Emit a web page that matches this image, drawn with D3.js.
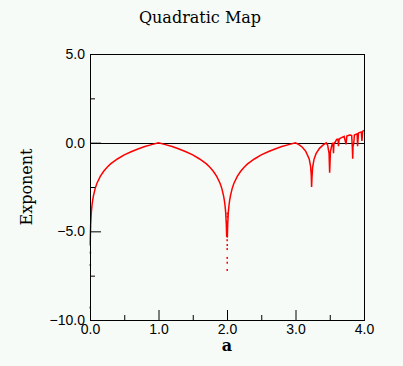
<!DOCTYPE html>
<html>
<head>
<meta charset="utf-8">
<script src="https://cdn.jsdelivr.net/npm/d3@7"></script>
<style>
  html, body { margin: 0; padding: 0; background: #f6fbf7; }
  svg { display: block; }
</style>
</head>
<body>
<svg id="chart" width="403" height="366"></svg>
<script>
// ---- data ----
const titleText = "Quadratic Map";
const xLabel = "a";
const yLabel = "Exponent";
const xMajorTicks = [0, 1, 2, 3, 4];
const xMinorTicks = [0.5, 1.5, 2.5, 3.5];
const yMajorTicks = [5, 0, -5, -10];
const yMinorTicks = [2.5, -2.5, -7.5];

// main curve (parameter a, Lyapunov exponent)
const curveA = [
  0.003, 0.005, 0.01, 0.02, 0.03, 0.04, 0.05, 0.075, 0.1, 0.15, 0.2, 0.25, 0.3, 0.4, 0.5,
  0.6, 0.7, 0.8, 0.9, 1.0, 1.1, 1.2, 1.3, 1.4, 1.5, 1.6, 1.7, 1.75, 1.8, 1.85, 1.9, 1.925,
  1.95, 1.96, 1.97, 1.98, 1.99, 1.995
];
const curveExp = [
  -5.8, -5.3, -4.6, -3.9, -3.5, -3.22, -3.0, -2.59, -2.3, -1.9, -1.61, -1.39, -1.2, -0.92, -0.69,
  -0.51, -0.36, -0.22, -0.11, -0.01, -0.11, -0.22, -0.36, -0.51, -0.69, -0.92, -1.2, -1.39, -1.61, -1.9, -2.3, -2.59,
  -3.0, -3.22, -3.5, -3.9, -4.6, -5.3
];
const curve2A = [
  2.005, 2.01, 2.02, 2.03, 2.04, 2.05, 2.075, 2.1, 2.15, 2.2, 2.25, 2.3, 2.4, 2.5, 2.6, 2.7,
  2.8, 2.9, 3.0, 3.05, 3.1, 3.15, 3.2, 3.22, 3.23, 3.235, 3.24, 3.25, 3.27, 3.3, 3.35, 3.4,
  3.449, 3.47, 3.49, 3.4986, 3.51, 3.53, 3.544, 3.55, 3.5546, 3.56, 3.565, 3.57, 3.58, 3.6,
  3.62, 3.628, 3.635, 3.65, 3.68, 3.7, 3.71, 3.738, 3.75, 3.78, 3.8, 3.82, 3.83, 3.835,
  3.84, 3.85, 3.86, 3.88, 3.9, 3.906, 3.92, 3.94, 3.96, 3.97, 3.98, 4.0
];
const curve2Exp = [
  -5.3, -4.6, -3.9, -3.5, -3.22, -3.0, -2.59, -2.3, -1.9, -1.61, -1.39, -1.2, -0.92, -0.69, -0.51, -0.36,
  -0.22, -0.11, -0.01, -0.11, -0.26, -0.49, -0.92, -1.32, -1.8, -2.5, -2.0, -1.39, -0.94, -0.62, -0.32, -0.14,
  -0.01, -0.15, -0.6, -1.7, -0.5, -0.15, -0.01, -0.2, -0.6, -0.1, -0.02, 0.0, 0.03, 0.18,
  0.2, -0.2, 0.15, 0.25, 0.3, 0.33, 0.35, -0.1, 0.37, 0.42, 0.43, 0.4, -0.3, -0.9,
  -0.2, -0.05, 0.43, 0.47, 0.5, -0.2, 0.55, 0.58, 0.6, 0.1, 0.63, 0.69
];
// isolated deep points
const dotA = [0.002, 0.001, 0.0003, 1.997, 1.998, 1.9985, 1.999, 1.9993, 1.9995, 2.0, 2.0003, 2.0005, 2.001, 2.0015, 2.002];
const dotExp = [-6.2, -6.9, -9.3, -4.45, -4.96, -5.5, -6.0, -6.5, -7.18, -6.77, -5.77, -5.3, -4.7, -4.17, -4.0];

// ---- drawing ----
const svg = d3.select("#chart");
const x = d3.scaleLinear().domain([0, 4]).range([90, 364]);
const y = d3.scaleLinear().domain([-10, 5]).range([320, 54]);
const fmt = d3.format(".1f");

svg.append("text")
  .attr("x", 200).attr("y", 23)
  .attr("text-anchor", "middle")
  .style("font-family", "'DejaVu Serif', serif")
  .style("font-size", "16px")
  .text(titleText);

// zero line
svg.append("line")
  .attr("x1", x(0)).attr("x2", x(4))
  .attr("y1", Math.round(y(0)) + 0.5).attr("y2", Math.round(y(0)) + 0.5)
  .attr("stroke", "#000").attr("stroke-width", 1);

// curves
const line = d3.line().x(d => x(d[0])).y(d => y(d[1]));
const seg1 = curveA.map((a, i) => [a, curveExp[i]]);
const seg2 = curve2A.map((a, i) => [a, curve2Exp[i]]);
[seg1, seg2].forEach(seg => {
  svg.append("path")
    .attr("d", line(seg))
    .attr("fill", "none")
    .attr("stroke", "#ff0000")
    .attr("stroke-width", 1.5);
});
svg.append("g").selectAll("rect")
  .data(dotA.map((a, i) => [a, dotExp[i]]))
  .join("rect")
  .attr("x", d => x(d[0]) - 0.5)
  .attr("y", d => y(d[1]) - 1)
  .attr("width", 1.5).attr("height", 2)
  .attr("fill", "#ff0000");

// axes
const axisStyle = g => {
  g.select(".domain").remove();
  g.selectAll("line").attr("stroke", "#000").attr("stroke-width", 1);
  g.selectAll("text")
    .style("font-family", "'Liberation Sans', Arial, sans-serif")
    .style("font-size", "14px")
    .attr("fill", "#000");
};
svg.append("g").attr("transform", `translate(0,${y(-10)})`)
  .call(d3.axisBottom(x).tickValues(xMajorTicks).tickSize(-10).tickPadding(4).tickFormat(fmt))
  .call(axisStyle);
svg.append("g").attr("transform", `translate(0,${y(-10)})`)
  .call(d3.axisBottom(x).tickValues(xMinorTicks).tickSize(-5).tickFormat(""))
  .call(axisStyle);
svg.append("g").attr("transform", `translate(${x(0)},0)`)
  .call(d3.axisLeft(y).tickValues(yMajorTicks).tickSize(-11).tickPadding(5).tickFormat(fmt))
  .call(axisStyle);
svg.append("g").attr("transform", `translate(${x(0)},0)`)
  .call(d3.axisLeft(y).tickValues(yMinorTicks).tickSize(-5).tickFormat(""))
  .call(axisStyle);

// frame
svg.append("rect")
  .attr("x", x(0) + 0.5).attr("y", y(5) + 0.5)
  .attr("width", x(4) - x(0)).attr("height", y(-10) - y(5))
  .attr("fill", "none").attr("stroke", "#000").attr("stroke-width", 1);

svg.append("text")
  .attr("x", (x(0) + x(4)) / 2).attr("y", 351)
  .attr("text-anchor", "middle")
  .style("font-family", "'DejaVu Serif', serif")
  .style("font-size", "16px")
  .style("font-weight", "bold")
  .text(xLabel);

svg.append("text")
  .attr("transform", `translate(32,${(y(5) + y(-10)) / 2}) rotate(-90)`)
  .attr("text-anchor", "middle")
  .style("font-family", "'DejaVu Serif', serif")
  .style("font-size", "16px")
  .text(yLabel);
</script>
</body>
</html>
